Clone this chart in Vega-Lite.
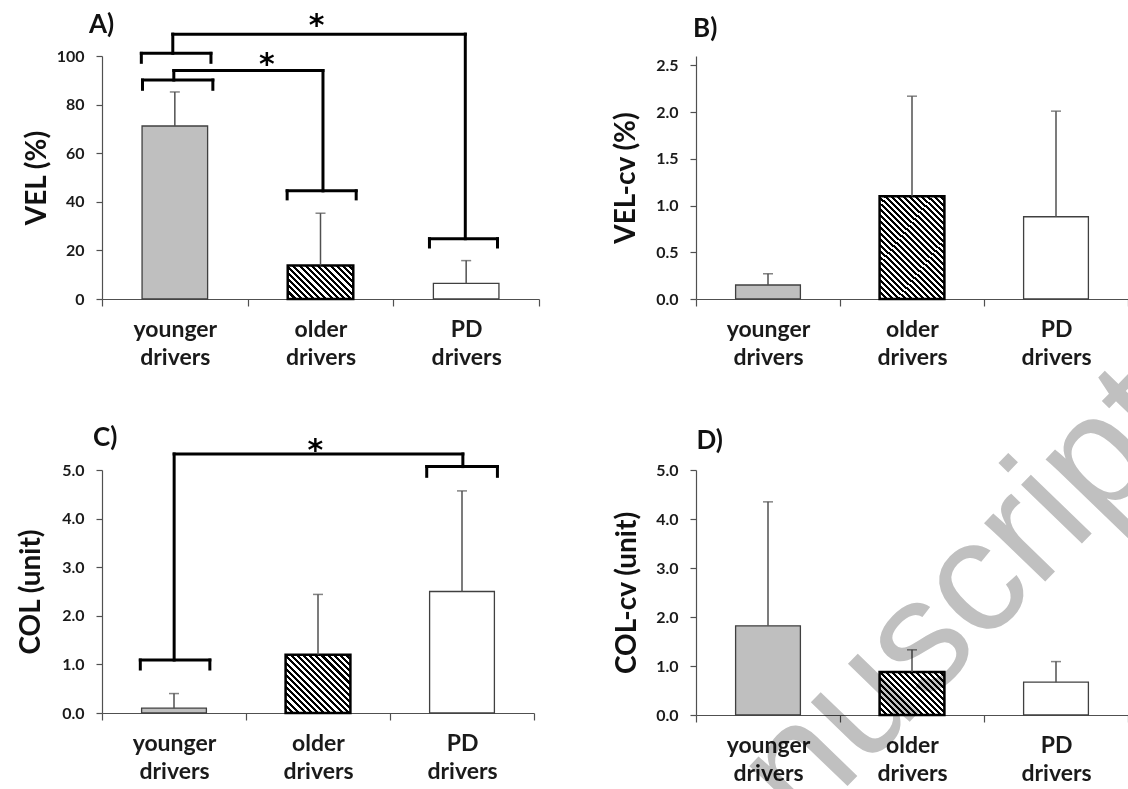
{
  "$schema": "https://vega.github.io/schema/vega-lite/v6.json",
  "background": "white",
  "padding": {"left": 17, "top": 11, "right": 0, "bottom": 0},
  "columns": 2,
  "bounds": "flush",
  "spacing": {"row": 171, "column": 157},
  "config": {
    "font": "Lato",
    "view": {"stroke": null},
    "axis": {"grid": false, "domainColor": "#505050", "tickColor": "#505050", "domainWidth": 1.2, "tickWidth": 1.2, "labelFont": "Lato", "labelFontWeight": "bold", "labelColor": "#1a1a1a", "titleFont": "Lato", "titleFontWeight": "bold", "titleColor": "#111111"},
    "axisX": {"labelFontSize": 23, "labelLineHeight": 28, "tickSize": 7, "labelPadding": 12, "tickBand": "extent", "labelAngle": 0},
    "axisY": {"labelFontSize": 16, "tickSize": 6, "labelPadding": 12, "titleFontSize": 28}
  },
  "datasets": {
    "vel": [
      {"group": "younger drivers", "mean": 71.2, "upper": 85.2},
      {"group": "older drivers", "mean": 13.8, "upper": 35.3},
      {"group": "PD drivers", "mean": 6.4, "upper": 15.8}
    ],
    "velcv": [
      {"group": "younger drivers", "mean": 0.15, "upper": 0.27},
      {"group": "older drivers", "mean": 1.1, "upper": 2.17},
      {"group": "PD drivers", "mean": 0.88, "upper": 2.01}
    ],
    "col": [
      {"group": "younger drivers", "mean": 0.1, "upper": 0.4},
      {"group": "older drivers", "mean": 1.2, "upper": 2.44},
      {"group": "PD drivers", "mean": 2.5, "upper": 4.57}
    ],
    "colcv": [
      {"group": "younger drivers", "mean": 1.82, "upper": 4.35},
      {"group": "older drivers", "mean": 0.88, "upper": 1.33},
      {"group": "PD drivers", "mean": 0.67, "upper": 1.09}
    ],
    "brA": [
      {"x1": 0.27, "x2": 0.748, "y1": 101.1, "y2": 101.1},
      {"x1": 0.27, "x2": 0.27, "y1": 101.1, "y2": 97.4},
      {"x1": 0.748, "x2": 0.748, "y1": 101.1, "y2": 97.4},
      {"x1": 0.486, "x2": 0.486, "y1": 101.1, "y2": 109},
      {"x1": 0.486, "x2": 2.494, "y1": 109, "y2": 109},
      {"x1": 2.494, "x2": 2.494, "y1": 109, "y2": 24.8},
      {"x1": 2.248, "x2": 2.715, "y1": 24.8, "y2": 24.8},
      {"x1": 2.248, "x2": 2.248, "y1": 24.8, "y2": 21.4},
      {"x1": 2.715, "x2": 2.715, "y1": 24.8, "y2": 21.4},
      {"x1": 0.278, "x2": 0.761, "y1": 90.1, "y2": 90.1},
      {"x1": 0.278, "x2": 0.278, "y1": 90.1, "y2": 86.3},
      {"x1": 0.761, "x2": 0.761, "y1": 90.1, "y2": 86.3},
      {"x1": 0.493, "x2": 0.493, "y1": 90.1, "y2": 94},
      {"x1": 0.493, "x2": 1.517, "y1": 94, "y2": 94},
      {"x1": 1.517, "x2": 1.517, "y1": 94, "y2": 44.5},
      {"x1": 1.271, "x2": 1.745, "y1": 44.5, "y2": 44.5},
      {"x1": 1.271, "x2": 1.271, "y1": 44.5, "y2": 41.2},
      {"x1": 1.745, "x2": 1.745, "y1": 44.5, "y2": 41.2}
    ],
    "starA": [
      {"x": 1.474, "y": 108.5},
      {"x": 1.131, "y": 92.4}
    ],
    "labA": [{"x": -0.089, "y": 109.5, "label": "A)"}],
    "labB": [{"x": -0.02, "y": 2.8, "label": "B)"}],
    "labC": [{"x": -0.0625, "y": 5.5, "label": "C)"}],
    "labD": [{"x": 0.003, "y": 5.43, "label": "D)"}],
    "brC": [
      {"x1": 0.266, "x2": 0.749, "y1": 1.09, "y2": 1.09},
      {"x1": 0.266, "x2": 0.266, "y1": 1.09, "y2": 0.905},
      {"x1": 0.749, "x2": 0.749, "y1": 1.09, "y2": 0.905},
      {"x1": 0.501, "x2": 0.501, "y1": 1.09, "y2": 5.33},
      {"x1": 0.501, "x2": 2.506, "y1": 5.33, "y2": 5.33},
      {"x1": 2.506, "x2": 2.506, "y1": 5.33, "y2": 5.07},
      {"x1": 2.255, "x2": 2.746, "y1": 5.07, "y2": 5.07},
      {"x1": 2.255, "x2": 2.255, "y1": 5.07, "y2": 4.87},
      {"x1": 2.746, "x2": 2.746, "y1": 5.07, "y2": 4.87}
    ],
    "starC": [
      {"x": 1.481, "y": 5.21}
    ],
    "wm": [
      {"x": 3.444, "y": 5.824, "label": "Accepted Manuscript"}
    ]
  },
  "concat": [
    {
      "width": 437, "height": 243,
      "layer": [
        {
          "data": {"name": "vel"},
          "encoding": {
            "x": {"field": "group", "type": "nominal", "sort": ["younger drivers", "older drivers", "PD drivers"], "scale": {"paddingInner": 0, "paddingOuter": 0}, "axis": {"title": null, "labelExpr": "split(datum.label, ' ')"}},
            "y": {"field": "mean", "type": "quantitative", "scale": {"domain": [0, 100]}, "axis": {"title": "VEL (%)", "values": [0, 20, 40, 60, 80, 100], "format": "d", "titlePadding": 5}}
          },
          "layer": [
            {"transform": [{"filter": "datum.group !== 'older drivers'"}], "mark": {"type": "bar", "width": {"band": 0.45}, "stroke": "#404040", "strokeWidth": 1.3}, "encoding": {"fill": {"condition": {"test": "datum.group === 'younger drivers'", "value": "#bfbfbf"}, "value": "#ffffff"}}},
            {"transform": [{"filter": "datum.group === 'older drivers'"}], "mark": {"type": "bar", "width": {"band": 0.45}, "stroke": "#000000", "strokeWidth": 2.5, "fill": {"gradient": "linear", "x1": 0, "y1": 1, "x2": 1.198, "y2": 0.387, "stops": [
              {"offset": 0, "color": "#000"}, {"offset": 0.03125, "color": "#000"}, {"offset": 0.03125, "color": "#fff"}, {"offset": 0.0625, "color": "#fff"},
              {"offset": 0.0625, "color": "#000"}, {"offset": 0.09375, "color": "#000"}, {"offset": 0.09375, "color": "#fff"}, {"offset": 0.125, "color": "#fff"},
              {"offset": 0.125, "color": "#000"}, {"offset": 0.15625, "color": "#000"}, {"offset": 0.15625, "color": "#fff"}, {"offset": 0.1875, "color": "#fff"},
              {"offset": 0.1875, "color": "#000"}, {"offset": 0.21875, "color": "#000"}, {"offset": 0.21875, "color": "#fff"}, {"offset": 0.25, "color": "#fff"},
              {"offset": 0.25, "color": "#000"}, {"offset": 0.28125, "color": "#000"}, {"offset": 0.28125, "color": "#fff"}, {"offset": 0.3125, "color": "#fff"},
              {"offset": 0.3125, "color": "#000"}, {"offset": 0.34375, "color": "#000"}, {"offset": 0.34375, "color": "#fff"}, {"offset": 0.375, "color": "#fff"},
              {"offset": 0.375, "color": "#000"}, {"offset": 0.40625, "color": "#000"}, {"offset": 0.40625, "color": "#fff"}, {"offset": 0.4375, "color": "#fff"},
              {"offset": 0.4375, "color": "#000"}, {"offset": 0.46875, "color": "#000"}, {"offset": 0.46875, "color": "#fff"}, {"offset": 0.5, "color": "#fff"},
              {"offset": 0.5, "color": "#000"}, {"offset": 0.53125, "color": "#000"}, {"offset": 0.53125, "color": "#fff"}, {"offset": 0.5625, "color": "#fff"},
              {"offset": 0.5625, "color": "#000"}, {"offset": 0.59375, "color": "#000"}, {"offset": 0.59375, "color": "#fff"}, {"offset": 0.625, "color": "#fff"},
              {"offset": 0.625, "color": "#000"}, {"offset": 0.65625, "color": "#000"}, {"offset": 0.65625, "color": "#fff"}, {"offset": 0.6875, "color": "#fff"},
              {"offset": 0.6875, "color": "#000"}, {"offset": 0.71875, "color": "#000"}, {"offset": 0.71875, "color": "#fff"}, {"offset": 0.75, "color": "#fff"},
              {"offset": 0.75, "color": "#000"}, {"offset": 0.78125, "color": "#000"}, {"offset": 0.78125, "color": "#fff"}, {"offset": 0.8125, "color": "#fff"},
              {"offset": 0.8125, "color": "#000"}, {"offset": 0.84375, "color": "#000"}, {"offset": 0.84375, "color": "#fff"}, {"offset": 0.875, "color": "#fff"},
              {"offset": 0.875, "color": "#000"}, {"offset": 0.90625, "color": "#000"}, {"offset": 0.90625, "color": "#fff"}, {"offset": 0.9375, "color": "#fff"},
              {"offset": 0.9375, "color": "#000"}, {"offset": 0.96875, "color": "#000"}, {"offset": 0.96875, "color": "#fff"}, {"offset": 1, "color": "#fff"}
            ]}}},
            {"mark": {"type": "rule", "color": "#505050", "strokeWidth": 1.5}, "encoding": {"y2": {"field": "upper"}}},
            {"mark": {"type": "tick", "orient": "horizontal", "color": "#505050", "thickness": 1.5, "size": 10}, "encoding": {"y": {"field": "upper", "type": "quantitative"}}}
          ]
        },
        {
          "layer": [
            {"data": {"name": "brA"}, "mark": {"type": "rule", "color": "#000000", "strokeWidth": 3, "strokeCap": "square"}, "encoding": {"x": {"field": "x1", "type": "quantitative", "scale": {"domain": [0, 3]}, "axis": null}, "x2": {"field": "x2"}, "y": {"field": "y1", "type": "quantitative"}, "y2": {"field": "y2"}}},
            {"data": {"name": "starA"}, "mark": {"type": "text", "text": "*", "font": "DejaVu Sans", "fontSize": 30, "fontWeight": "bold", "baseline": "alphabetic", "color": "#000000"}, "encoding": {"x": {"field": "x", "type": "quantitative", "scale": {"domain": [0, 3]}, "axis": null}, "y": {"field": "y", "type": "quantitative"}}},
            {"data": {"name": "labA"}, "mark": {"type": "text", "font": "Lato", "fontSize": 26, "fontWeight": "bold", "align": "left", "baseline": "alphabetic", "color": "#111111"}, "encoding": {"x": {"field": "x", "type": "quantitative", "scale": {"domain": [0, 3]}, "axis": null}, "y": {"field": "y", "type": "quantitative"}, "text": {"field": "label"}}}
          ]
        }
      ],
      "resolve": {"scale": {"x": "independent"}}
    },
    {
      "width": 432, "height": 243,
      "layer": [
        {
          "data": {"name": "velcv"},
          "encoding": {
            "x": {"field": "group", "type": "nominal", "sort": ["younger drivers", "older drivers", "PD drivers"], "scale": {"paddingInner": 0, "paddingOuter": 0}, "axis": {"title": null, "labelExpr": "split(datum.label, ' ')"}},
            "y": {"field": "mean", "type": "quantitative", "scale": {"domain": [0, 2.5]}, "axis": {"title": "VEL-cv (%)", "values": [0, 0.5, 1, 1.5, 2, 2.5], "format": ".1f", "titlePadding": 15}}
          },
          "layer": [
            {"transform": [{"filter": "datum.group !== 'older drivers'"}], "mark": {"type": "bar", "width": {"band": 0.45}, "stroke": "#404040", "strokeWidth": 1.3}, "encoding": {"fill": {"condition": {"test": "datum.group === 'younger drivers'", "value": "#bfbfbf"}, "value": "#ffffff"}}},
            {"transform": [{"filter": "datum.group === 'older drivers'"}], "mark": {"type": "bar", "width": {"band": 0.45}, "stroke": "#000000", "strokeWidth": 2.5, "fill": {"gradient": "linear", "x1": 0, "y1": 1, "x2": 0.712, "y2": -0.175, "stops": [
              {"offset": 0, "color": "#000"}, {"offset": 0.0179, "color": "#000"}, {"offset": 0.0179, "color": "#fff"}, {"offset": 0.0357, "color": "#fff"},
              {"offset": 0.0357, "color": "#000"}, {"offset": 0.0536, "color": "#000"}, {"offset": 0.0536, "color": "#fff"}, {"offset": 0.0714, "color": "#fff"},
              {"offset": 0.0714, "color": "#000"}, {"offset": 0.0893, "color": "#000"}, {"offset": 0.0893, "color": "#fff"}, {"offset": 0.1071, "color": "#fff"},
              {"offset": 0.1071, "color": "#000"}, {"offset": 0.125, "color": "#000"}, {"offset": 0.125, "color": "#fff"}, {"offset": 0.1429, "color": "#fff"},
              {"offset": 0.1429, "color": "#000"}, {"offset": 0.1607, "color": "#000"}, {"offset": 0.1607, "color": "#fff"}, {"offset": 0.1786, "color": "#fff"},
              {"offset": 0.1786, "color": "#000"}, {"offset": 0.1964, "color": "#000"}, {"offset": 0.1964, "color": "#fff"}, {"offset": 0.2143, "color": "#fff"},
              {"offset": 0.2143, "color": "#000"}, {"offset": 0.2321, "color": "#000"}, {"offset": 0.2321, "color": "#fff"}, {"offset": 0.25, "color": "#fff"},
              {"offset": 0.25, "color": "#000"}, {"offset": 0.2679, "color": "#000"}, {"offset": 0.2679, "color": "#fff"}, {"offset": 0.2857, "color": "#fff"},
              {"offset": 0.2857, "color": "#000"}, {"offset": 0.3036, "color": "#000"}, {"offset": 0.3036, "color": "#fff"}, {"offset": 0.3214, "color": "#fff"},
              {"offset": 0.3214, "color": "#000"}, {"offset": 0.3393, "color": "#000"}, {"offset": 0.3393, "color": "#fff"}, {"offset": 0.3571, "color": "#fff"},
              {"offset": 0.3571, "color": "#000"}, {"offset": 0.375, "color": "#000"}, {"offset": 0.375, "color": "#fff"}, {"offset": 0.3929, "color": "#fff"},
              {"offset": 0.3929, "color": "#000"}, {"offset": 0.4107, "color": "#000"}, {"offset": 0.4107, "color": "#fff"}, {"offset": 0.4286, "color": "#fff"},
              {"offset": 0.4286, "color": "#000"}, {"offset": 0.4464, "color": "#000"}, {"offset": 0.4464, "color": "#fff"}, {"offset": 0.4643, "color": "#fff"},
              {"offset": 0.4643, "color": "#000"}, {"offset": 0.4821, "color": "#000"}, {"offset": 0.4821, "color": "#fff"}, {"offset": 0.5, "color": "#fff"},
              {"offset": 0.5, "color": "#000"}, {"offset": 0.5179, "color": "#000"}, {"offset": 0.5179, "color": "#fff"}, {"offset": 0.5357, "color": "#fff"},
              {"offset": 0.5357, "color": "#000"}, {"offset": 0.5536, "color": "#000"}, {"offset": 0.5536, "color": "#fff"}, {"offset": 0.5714, "color": "#fff"},
              {"offset": 0.5714, "color": "#000"}, {"offset": 0.5893, "color": "#000"}, {"offset": 0.5893, "color": "#fff"}, {"offset": 0.6071, "color": "#fff"},
              {"offset": 0.6071, "color": "#000"}, {"offset": 0.625, "color": "#000"}, {"offset": 0.625, "color": "#fff"}, {"offset": 0.6429, "color": "#fff"},
              {"offset": 0.6429, "color": "#000"}, {"offset": 0.6607, "color": "#000"}, {"offset": 0.6607, "color": "#fff"}, {"offset": 0.6786, "color": "#fff"},
              {"offset": 0.6786, "color": "#000"}, {"offset": 0.6964, "color": "#000"}, {"offset": 0.6964, "color": "#fff"}, {"offset": 0.7143, "color": "#fff"},
              {"offset": 0.7143, "color": "#000"}, {"offset": 0.7321, "color": "#000"}, {"offset": 0.7321, "color": "#fff"}, {"offset": 0.75, "color": "#fff"},
              {"offset": 0.75, "color": "#000"}, {"offset": 0.7679, "color": "#000"}, {"offset": 0.7679, "color": "#fff"}, {"offset": 0.7857, "color": "#fff"},
              {"offset": 0.7857, "color": "#000"}, {"offset": 0.8036, "color": "#000"}, {"offset": 0.8036, "color": "#fff"}, {"offset": 0.8214, "color": "#fff"},
              {"offset": 0.8214, "color": "#000"}, {"offset": 0.8393, "color": "#000"}, {"offset": 0.8393, "color": "#fff"}, {"offset": 0.8571, "color": "#fff"},
              {"offset": 0.8571, "color": "#000"}, {"offset": 0.875, "color": "#000"}, {"offset": 0.875, "color": "#fff"}, {"offset": 0.8929, "color": "#fff"},
              {"offset": 0.8929, "color": "#000"}, {"offset": 0.9107, "color": "#000"}, {"offset": 0.9107, "color": "#fff"}, {"offset": 0.9286, "color": "#fff"},
              {"offset": 0.9286, "color": "#000"}, {"offset": 0.9464, "color": "#000"}, {"offset": 0.9464, "color": "#fff"}, {"offset": 0.9643, "color": "#fff"},
              {"offset": 0.9643, "color": "#000"}, {"offset": 0.9821, "color": "#000"}, {"offset": 0.9821, "color": "#fff"}, {"offset": 1, "color": "#fff"}
            ]}}},
            {"mark": {"type": "rule", "color": "#505050", "strokeWidth": 1.5}, "encoding": {"y2": {"field": "upper"}}},
            {"mark": {"type": "tick", "orient": "horizontal", "color": "#505050", "thickness": 1.5, "size": 10}, "encoding": {"y": {"field": "upper", "type": "quantitative"}}}
          ]
        },
        {
          "data": {"name": "labB"},
          "mark": {"type": "text", "font": "Lato", "fontSize": 26, "fontWeight": "bold", "align": "left", "baseline": "alphabetic", "color": "#111111"},
          "encoding": {"x": {"field": "x", "type": "quantitative", "scale": {"domain": [0, 3]}, "axis": null}, "y": {"field": "y", "type": "quantitative"}, "text": {"field": "label"}}
        }
      ],
      "resolve": {"scale": {"x": "independent"}}
    },
    {
      "width": 432, "height": 243,
      "layer": [
        {
          "data": {"name": "col"},
          "encoding": {
            "x": {"field": "group", "type": "nominal", "sort": ["younger drivers", "older drivers", "PD drivers"], "scale": {"paddingInner": 0, "paddingOuter": 0}, "axis": {"title": null, "labelExpr": "split(datum.label, ' ')"}},
            "y": {"field": "mean", "type": "quantitative", "scale": {"domain": [0, 5]}, "axis": {"title": "COL (unit)", "values": [0, 1, 2, 3, 4, 5], "format": ".1f", "titlePadding": 16}}
          },
          "layer": [
            {"transform": [{"filter": "datum.group !== 'older drivers'"}], "mark": {"type": "bar", "width": {"band": 0.45}, "stroke": "#404040", "strokeWidth": 1.3}, "encoding": {"fill": {"condition": {"test": "datum.group === 'younger drivers'", "value": "#bfbfbf"}, "value": "#ffffff"}}},
            {"transform": [{"filter": "datum.group === 'older drivers'"}], "mark": {"type": "bar", "width": {"band": 0.45}, "stroke": "#000000", "strokeWidth": 2.5, "fill": {"gradient": "linear", "x1": 0, "y1": 1, "x2": 1.05, "y2": 0.055, "stops": [
              {"offset": 0, "color": "#000"}, {"offset": 0.025, "color": "#000"}, {"offset": 0.025, "color": "#fff"}, {"offset": 0.05, "color": "#fff"},
              {"offset": 0.05, "color": "#000"}, {"offset": 0.075, "color": "#000"}, {"offset": 0.075, "color": "#fff"}, {"offset": 0.1, "color": "#fff"},
              {"offset": 0.1, "color": "#000"}, {"offset": 0.125, "color": "#000"}, {"offset": 0.125, "color": "#fff"}, {"offset": 0.15, "color": "#fff"},
              {"offset": 0.15, "color": "#000"}, {"offset": 0.175, "color": "#000"}, {"offset": 0.175, "color": "#fff"}, {"offset": 0.2, "color": "#fff"},
              {"offset": 0.2, "color": "#000"}, {"offset": 0.225, "color": "#000"}, {"offset": 0.225, "color": "#fff"}, {"offset": 0.25, "color": "#fff"},
              {"offset": 0.25, "color": "#000"}, {"offset": 0.275, "color": "#000"}, {"offset": 0.275, "color": "#fff"}, {"offset": 0.3, "color": "#fff"},
              {"offset": 0.3, "color": "#000"}, {"offset": 0.325, "color": "#000"}, {"offset": 0.325, "color": "#fff"}, {"offset": 0.35, "color": "#fff"},
              {"offset": 0.35, "color": "#000"}, {"offset": 0.375, "color": "#000"}, {"offset": 0.375, "color": "#fff"}, {"offset": 0.4, "color": "#fff"},
              {"offset": 0.4, "color": "#000"}, {"offset": 0.425, "color": "#000"}, {"offset": 0.425, "color": "#fff"}, {"offset": 0.45, "color": "#fff"},
              {"offset": 0.45, "color": "#000"}, {"offset": 0.475, "color": "#000"}, {"offset": 0.475, "color": "#fff"}, {"offset": 0.5, "color": "#fff"},
              {"offset": 0.5, "color": "#000"}, {"offset": 0.525, "color": "#000"}, {"offset": 0.525, "color": "#fff"}, {"offset": 0.55, "color": "#fff"},
              {"offset": 0.55, "color": "#000"}, {"offset": 0.575, "color": "#000"}, {"offset": 0.575, "color": "#fff"}, {"offset": 0.6, "color": "#fff"},
              {"offset": 0.6, "color": "#000"}, {"offset": 0.625, "color": "#000"}, {"offset": 0.625, "color": "#fff"}, {"offset": 0.65, "color": "#fff"},
              {"offset": 0.65, "color": "#000"}, {"offset": 0.675, "color": "#000"}, {"offset": 0.675, "color": "#fff"}, {"offset": 0.7, "color": "#fff"},
              {"offset": 0.7, "color": "#000"}, {"offset": 0.725, "color": "#000"}, {"offset": 0.725, "color": "#fff"}, {"offset": 0.75, "color": "#fff"},
              {"offset": 0.75, "color": "#000"}, {"offset": 0.775, "color": "#000"}, {"offset": 0.775, "color": "#fff"}, {"offset": 0.8, "color": "#fff"},
              {"offset": 0.8, "color": "#000"}, {"offset": 0.825, "color": "#000"}, {"offset": 0.825, "color": "#fff"}, {"offset": 0.85, "color": "#fff"},
              {"offset": 0.85, "color": "#000"}, {"offset": 0.875, "color": "#000"}, {"offset": 0.875, "color": "#fff"}, {"offset": 0.9, "color": "#fff"},
              {"offset": 0.9, "color": "#000"}, {"offset": 0.925, "color": "#000"}, {"offset": 0.925, "color": "#fff"}, {"offset": 0.95, "color": "#fff"},
              {"offset": 0.95, "color": "#000"}, {"offset": 0.975, "color": "#000"}, {"offset": 0.975, "color": "#fff"}, {"offset": 1, "color": "#fff"}
            ]}}},
            {"mark": {"type": "rule", "color": "#505050", "strokeWidth": 1.5}, "encoding": {"y2": {"field": "upper"}}},
            {"mark": {"type": "tick", "orient": "horizontal", "color": "#505050", "thickness": 1.5, "size": 10}, "encoding": {"y": {"field": "upper", "type": "quantitative"}}}
          ]
        },
        {
          "layer": [
            {"data": {"name": "brC"}, "mark": {"type": "rule", "color": "#000000", "strokeWidth": 3, "strokeCap": "square"}, "encoding": {"x": {"field": "x1", "type": "quantitative", "scale": {"domain": [0, 3]}, "axis": null}, "x2": {"field": "x2"}, "y": {"field": "y1", "type": "quantitative"}, "y2": {"field": "y2"}}},
            {"data": {"name": "starC"}, "mark": {"type": "text", "text": "*", "font": "DejaVu Sans", "fontSize": 30, "fontWeight": "bold", "baseline": "alphabetic", "color": "#000000"}, "encoding": {"x": {"field": "x", "type": "quantitative", "scale": {"domain": [0, 3]}, "axis": null}, "y": {"field": "y", "type": "quantitative"}}},
            {"data": {"name": "labC"}, "mark": {"type": "text", "font": "Lato", "fontSize": 26, "fontWeight": "bold", "align": "left", "baseline": "alphabetic", "color": "#111111"}, "encoding": {"x": {"field": "x", "type": "quantitative", "scale": {"domain": [0, 3]}, "axis": null}, "y": {"field": "y", "type": "quantitative"}, "text": {"field": "label"}}}
          ]
        }
      ],
      "resolve": {"scale": {"x": "independent"}}
    },
    {
      "width": 432, "height": 245,
      "layer": [
        {
          "data": {"name": "colcv"},
          "encoding": {
            "x": {"field": "group", "type": "nominal", "sort": ["younger drivers", "older drivers", "PD drivers"], "scale": {"paddingInner": 0, "paddingOuter": 0}, "axis": {"title": null, "labelExpr": "split(datum.label, ' ')"}},
            "y": {"field": "mean", "type": "quantitative", "scale": {"domain": [0, 5]}, "axis": {"title": "COL-cv (unit)", "values": [0, 1, 2, 3, 4, 5], "format": ".1f", "titlePadding": 14}}
          },
          "layer": [
            {"transform": [{"filter": "datum.group !== 'older drivers'"}], "mark": {"type": "bar", "width": {"band": 0.45}, "stroke": "#404040", "strokeWidth": 1.3}, "encoding": {"fill": {"condition": {"test": "datum.group === 'younger drivers'", "value": "#bfbfbf"}, "value": "#ffffff"}}},
            {"transform": [{"filter": "datum.group === 'older drivers'"}], "mark": {"type": "bar", "width": {"band": 0.45}, "stroke": "#000000", "strokeWidth": 2.5, "fill": {"gradient": "linear", "x1": 0, "y1": 1, "x2": 1.154, "y2": 0.232, "stops": [
              {"offset": 0, "color": "#000"}, {"offset": 0.0278, "color": "#000"}, {"offset": 0.0278, "color": "#fff"}, {"offset": 0.0556, "color": "#fff"},
              {"offset": 0.0556, "color": "#000"}, {"offset": 0.0833, "color": "#000"}, {"offset": 0.0833, "color": "#fff"}, {"offset": 0.1111, "color": "#fff"},
              {"offset": 0.1111, "color": "#000"}, {"offset": 0.1389, "color": "#000"}, {"offset": 0.1389, "color": "#fff"}, {"offset": 0.1667, "color": "#fff"},
              {"offset": 0.1667, "color": "#000"}, {"offset": 0.1944, "color": "#000"}, {"offset": 0.1944, "color": "#fff"}, {"offset": 0.2222, "color": "#fff"},
              {"offset": 0.2222, "color": "#000"}, {"offset": 0.25, "color": "#000"}, {"offset": 0.25, "color": "#fff"}, {"offset": 0.2778, "color": "#fff"},
              {"offset": 0.2778, "color": "#000"}, {"offset": 0.3056, "color": "#000"}, {"offset": 0.3056, "color": "#fff"}, {"offset": 0.3333, "color": "#fff"},
              {"offset": 0.3333, "color": "#000"}, {"offset": 0.3611, "color": "#000"}, {"offset": 0.3611, "color": "#fff"}, {"offset": 0.3889, "color": "#fff"},
              {"offset": 0.3889, "color": "#000"}, {"offset": 0.4167, "color": "#000"}, {"offset": 0.4167, "color": "#fff"}, {"offset": 0.4444, "color": "#fff"},
              {"offset": 0.4444, "color": "#000"}, {"offset": 0.4722, "color": "#000"}, {"offset": 0.4722, "color": "#fff"}, {"offset": 0.5, "color": "#fff"},
              {"offset": 0.5, "color": "#000"}, {"offset": 0.5278, "color": "#000"}, {"offset": 0.5278, "color": "#fff"}, {"offset": 0.5556, "color": "#fff"},
              {"offset": 0.5556, "color": "#000"}, {"offset": 0.5833, "color": "#000"}, {"offset": 0.5833, "color": "#fff"}, {"offset": 0.6111, "color": "#fff"},
              {"offset": 0.6111, "color": "#000"}, {"offset": 0.6389, "color": "#000"}, {"offset": 0.6389, "color": "#fff"}, {"offset": 0.6667, "color": "#fff"},
              {"offset": 0.6667, "color": "#000"}, {"offset": 0.6944, "color": "#000"}, {"offset": 0.6944, "color": "#fff"}, {"offset": 0.7222, "color": "#fff"},
              {"offset": 0.7222, "color": "#000"}, {"offset": 0.75, "color": "#000"}, {"offset": 0.75, "color": "#fff"}, {"offset": 0.7778, "color": "#fff"},
              {"offset": 0.7778, "color": "#000"}, {"offset": 0.8056, "color": "#000"}, {"offset": 0.8056, "color": "#fff"}, {"offset": 0.8333, "color": "#fff"},
              {"offset": 0.8333, "color": "#000"}, {"offset": 0.8611, "color": "#000"}, {"offset": 0.8611, "color": "#fff"}, {"offset": 0.8889, "color": "#fff"},
              {"offset": 0.8889, "color": "#000"}, {"offset": 0.9167, "color": "#000"}, {"offset": 0.9167, "color": "#fff"}, {"offset": 0.9444, "color": "#fff"},
              {"offset": 0.9444, "color": "#000"}, {"offset": 0.9722, "color": "#000"}, {"offset": 0.9722, "color": "#fff"}, {"offset": 1, "color": "#fff"}
            ]}}},
            {"mark": {"type": "rule", "color": "#505050", "strokeWidth": 1.5}, "encoding": {"y2": {"field": "upper"}}},
            {"mark": {"type": "tick", "orient": "horizontal", "color": "#505050", "thickness": 1.5, "size": 10}, "encoding": {"y": {"field": "upper", "type": "quantitative"}}}
          ]
        },
        {
          "layer": [
            {"data": {"name": "labD"}, "mark": {"type": "text", "font": "Lato", "fontSize": 26, "fontWeight": "bold", "align": "left", "baseline": "alphabetic", "color": "#111111"}, "encoding": {"x": {"field": "x", "type": "quantitative", "scale": {"domain": [0, 3]}, "axis": null}, "y": {"field": "y", "type": "quantitative"}, "text": {"field": "label"}}},
            {"data": {"name": "wm"}, "mark": {"type": "text", "font": "Liberation Sans", "fontSize": 160, "angle": 314, "align": "right", "baseline": "alphabetic", "color": "#c0c0c0", "blend": "multiply"}, "encoding": {"x": {"field": "x", "type": "quantitative", "scale": {"domain": [0, 3]}, "axis": null}, "y": {"field": "y", "type": "quantitative"}, "text": {"field": "label"}}}
          ]
        }
      ],
      "resolve": {"scale": {"x": "independent"}}
    }
  ]
}
